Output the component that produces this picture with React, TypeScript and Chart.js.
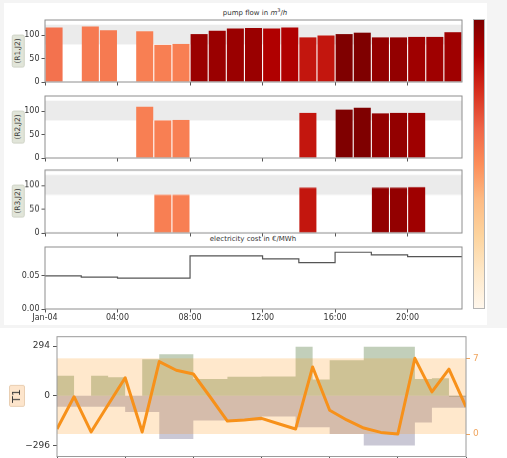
import React, { useEffect, useRef } from 'react';
import { Chart, registerables } from 'chart.js';

Chart.register(...registerables);
Chart.defaults.font.family = "'DejaVu Sans', sans-serif";

// ---------------- data ----------------
const hours = [0, 1, 2, 3, 4, 5, 6, 7, 8, 9, 10, 11, 12, 13, 14, 15, 16, 17, 18, 19, 20, 21, 22];
const flowR1J2 = [116, null, 118, 110, null, 108, 79, 81, 102, 109, 114, 115, 114, 116, 95, 99, 102, 105, 95, 95, 96, 96, 106];
const flowR2J2 = [null, null, null, null, null, 109, 80, 81, null, null, null, null, null, null, 96, null, 103, 107, 95, 96, 96, null, null];
const flowR3J2 = [null, null, null, null, null, null, 80, 80, null, null, null, null, null, null, 95, null, null, null, 95, 95, 96, null, null];
const electricityCost = [0.05, 0.05, 0.048, 0.048, 0.0465, 0.0465, 0.0465, 0.0465, 0.08, 0.08, 0.08, 0.08, 0.0755, 0.0755, 0.07, 0.07, 0.0856, 0.0856, 0.0815, 0.0815, 0.079, 0.079, 0.079];
const panelLabels = ['(R1,J2)', '(R2,J2)', '(R3,J2)'];
const xTickValues = [0, 4, 8, 12, 16, 20];
const xTickLabels = ['Jan-04', '04:00', '08:00', '12:00', '16:00', '20:00'];
const flowTicks = [0, 50, 100];
const flowRange = [0, 132];
const flowBand = [80, 122];
const costTicks = [0, 0.05];
const costRange = [0, 0.0935];

const t1Hours = [0, 1, 2, 3, 4, 5, 6, 7, 8, 9, 10, 11, 12, 13, 14, 15, 16, 17, 18, 19, 20, 21, 22, 23, 24];
const t1Level = [0.46, 3.45, 0.19, 2.7, 5.2, 0.19, 6.7, 5.9, 5.55, 3.4, 1.2, 1.3, 1.45, 0.95, 0.46, 6.2, 2.2, 1.3, 0.55, 0.15, 0.0, 7.0, 3.9, 6.0, 2.5];
const t1Upper = [118, 0, 118, 110, 0, 216, 245, 245, 100, 100, 112, 112, 114, 114, 290, 96, 210, 210, 290, 290, 290, 100, 104, -6];
const t1Lower = [-65, -65, -65, -65, -96, -96, -255, -255, -146, -146, -146, -146, -122, -122, -185, -185, -225, -225, -293, -293, -293, -158, -70, -70];
const t1XTicks = [0, 4, 8, 12, 16, 20, 24];
const t1LeftTicks = [-296, 0, 294];
const t1LeftRange = [-358, 349];
const t1RightTicks = [0, 7];
const t1RightRange = [-2.08, 9.0];
const t1Band = [0, 7];

const orRdStops = ['#fff7ec', '#fee8c8', '#fdd49e', '#fdbb84', '#fc8d59', '#ef6548', '#d7301f', '#b30000', '#7f0000'];

// ---------------- helpers ----------------
const TEXT = '#333333';
const FRAME = '#8e8e8e';

function hexRgb(h: string) {
  return [parseInt(h.slice(1, 3), 16), parseInt(h.slice(3, 5), 16), parseInt(h.slice(5, 7), 16)];
}
function orRd(t: number) {
  const n = orRdStops.length - 1;
  const tt = Math.max(0, Math.min(1, t));
  const i = Math.min(Math.floor(tt * n), n - 1);
  const f = tt * n - i;
  const a = hexRgb(orRdStops[i]);
  const b = hexRgb(orRdStops[i + 1]);
  const c = a.map((v, k) => Math.round(v + (b[k] - v) * f));
  return `rgb(${c[0]},${c[1]},${c[2]})`;
}
const maxCost = Math.max(...electricityCost);
const costColor = (h: number) => orRd(electricityCost[h] / maxCost);

const fixedTicks = (values: number[]) => (scale: any) => {
  scale.ticks = values.map((v) => ({ value: v }));
};

// force an exact scale size and drop the label overhang padding Chart.js adds
const fixSize = (key: 'width' | 'height', size: number) => (s: any) => {
  s[key] = size;
  s.paddingTop = 0;
  s.paddingBottom = 0;
  s.paddingLeft = 0;
  s.paddingRight = 0;
};

const framePlugin = (color: string) => ({
  id: 'frame',
  afterDraw(chart: any) {
    const { ctx, chartArea: a } = chart;
    ctx.save();
    ctx.strokeStyle = color;
    ctx.lineWidth = 1;
    ctx.strokeRect(a.left, a.top, a.right - a.left, a.bottom - a.top);
    ctx.restore();
  },
});

function paintBand(chart: any, axisId: string, range: number[], color: string) {
  const { ctx, chartArea: a } = chart;
  const s = chart.scales[axisId];
  const y1 = Math.max(a.top, s.getPixelForValue(range[1]));
  const y2 = Math.min(a.bottom, s.getPixelForValue(range[0]));
  ctx.save();
  ctx.fillStyle = color;
  ctx.fillRect(a.left, y1, a.right - a.left, y2 - y1);
  ctx.restore();
}

// band under everything
const bandPlugin = (axisId: string, range: number[], color: string) => ({
  id: 'band',
  beforeDraw(chart: any) {
    paintBand(chart, axisId, range, color);
  },
});

// band painted just before a given dataset (twin-axis layer, over earlier fills)
const bandBeforeDataset = (axisId: string, range: number[], color: string, index: number) => ({
  id: 'bandOver',
  beforeDatasetDraw(chart: any, args: any) {
    if (args.index === index) paintBand(chart, axisId, range, color);
  },
});

const tickGrid = (color: string) => ({
  offset: false,
  drawOnChartArea: false,
  drawTicks: true,
  tickLength: 3.5,
  tickColor: color,
  tickWidth: 1,
});

function hourScale(showLabels: boolean, axisH: number) {
  return {
    type: 'linear',
    min: 0,
    max: hours.length,
    offset: false,
    afterBuildTicks: fixedTicks(xTickValues),
    afterFit: fixSize('height', axisH),
    ticks: {
      display: showLabels,
      autoSkip: false,
      maxRotation: 0,
      padding: 1,
      color: TEXT,
      font: { size: 8 },
      callback: (v: number) => xTickLabels[xTickValues.indexOf(v)],
    },
    grid: tickGrid('#555'),
    border: { display: false },
  };
}

function valueScale(range: number[], ticks: number[], fmt: (v: number) => string, width: number) {
  return {
    type: 'linear',
    min: range[0],
    max: range[1],
    afterBuildTicks: fixedTicks(ticks),
    afterFit: fixSize('width', width),
    ticks: { color: TEXT, font: { size: 8 }, padding: 2, callback: fmt },
    grid: tickGrid('#555'),
    border: { display: false },
  };
}

// ---------------- layout ----------------
const PANEL_L = 45;
const PANEL_R = 462;
const PAD_T = 4;
const PAD_R = 4;
const panelAreas = [
  { top: 19.5, h: 62.2 },
  { top: 95.7, h: 62.1 },
  { top: 170.2, h: 62.4 },
  { top: 246.7, h: 62.3 },
];
const X_AXIS_SMALL = 4;
const X_AXIS_LABELS = 16;

type Rect = { x: number; y: number; w: number; h: number };
const panelRect = (i: number, axisH: number): Rect => ({
  x: 0,
  y: panelAreas[i].top - PAD_T,
  w: PANEL_R + PAD_R,
  h: PAD_T + panelAreas[i].h + axisH,
});

const baseOptions = (padTop: number, padRight: number) => ({
  responsive: false,
  animation: false,
  events: [],
  layout: { padding: { top: padTop, right: padRight, left: 0, bottom: 0 }, autoPadding: false },
  plugins: { legend: { display: false }, tooltip: { enabled: false }, title: { display: false } },
});

function flowConfig(flow: (number | null)[]) {
  const pts = hours.flatMap((h, i) => (flow[i] == null ? [] : [{ x: h + 0.5, y: flow[i] as number, hour: h }]));
  return {
    type: 'bar',
    data: {
      datasets: [
        {
          type: 'bar',
          data: pts,
          backgroundColor: pts.map((p) => costColor(p.hour)),
          borderWidth: 0,
          barPercentage: 0.94,
          categoryPercentage: 1,
        },
      ],
    },
    options: {
      ...baseOptions(PAD_T, PAD_R),
      scales: {
        x: hourScale(false, X_AXIS_SMALL),
        y: valueScale(flowRange, flowTicks, (v) => String(v), PANEL_L),
      },
    },
    plugins: [bandPlugin('y', flowBand, '#ebebeb'), framePlugin(FRAME)],
  };
}

function costConfig() {
  const pts = hours.map((h, i) => ({ x: h, y: electricityCost[i] }));
  pts.push({ x: hours.length, y: electricityCost[electricityCost.length - 1] });
  return {
    type: 'line',
    data: {
      datasets: [
        { data: pts, stepped: true, borderColor: '#555555', borderWidth: 1.2, pointRadius: 0, fill: false },
      ],
    },
    options: {
      ...baseOptions(PAD_T, PAD_R),
      scales: {
        x: hourScale(true, X_AXIS_LABELS),
        y: valueScale(costRange, costTicks, (v) => v.toFixed(2), PANEL_L),
      },
    },
    plugins: [framePlugin(FRAME)],
  };
}

const T1_RECT: Rect = { x: 0, y: 328, w: 507, h: 130 };
const T1_PAD_T = 8.7;
const T1_LEFT_W = 57;
const T1_RIGHT_W = 41;
const T1_X_H = 1.5;
const RIGHT_COLOR = '#f0a55e';

function t1Config() {
  const step = (arr: number[]) => {
    const p = arr.map((v, i) => ({ x: t1Hours[i], y: v }));
    p.push({ x: t1Hours[arr.length], y: arr[arr.length - 1] });
    return p;
  };
  const minus = (v: number) => (v < 0 ? '\u2212' + Math.abs(v) : String(v));
  return {
    type: 'line',
    data: {
      datasets: [
        {
          data: step(t1Upper),
          yAxisID: 'y',
          order: 2,
          stepped: true,
          fill: { value: 0 },
          backgroundColor: 'rgba(110,140,90,0.42)',
          borderWidth: 0,
          pointRadius: 0,
        },
        {
          data: step(t1Lower),
          yAxisID: 'y',
          order: 1,
          stepped: true,
          fill: { value: 0 },
          backgroundColor: 'rgba(122,117,150,0.40)',
          borderWidth: 0,
          pointRadius: 0,
        },
        {
          data: t1Hours.map((h, i) => ({ x: h, y: t1Level[i] })),
          yAxisID: 'yR',
          order: 0,
          borderColor: '#f7911a',
          borderWidth: 3,
          pointRadius: 0,
          tension: 0,
          fill: false,
          borderJoinStyle: 'round',
        },
      ],
    },
    options: {
      ...baseOptions(T1_PAD_T, 0),
      scales: {
        x: {
          type: 'linear',
          min: t1Hours[0],
          max: t1Hours[t1Hours.length - 1],
          offset: false,
          afterBuildTicks: fixedTicks(t1XTicks),
          afterFit: fixSize('height', T1_X_H),
          ticks: { display: false },
          grid: tickGrid('#555'),
          border: { display: false },
        },
        y: {
          type: 'linear',
          position: 'left',
          min: t1LeftRange[0],
          max: t1LeftRange[1],
          afterBuildTicks: fixedTicks(t1LeftTicks),
          afterFit: fixSize('width', T1_LEFT_W),
          ticks: { color: TEXT, font: { size: 9 }, padding: 3, callback: minus },
          grid: { ...tickGrid('#555'), tickLength: 4 },
          border: { display: false },
        },
        yR: {
          type: 'linear',
          position: 'right',
          min: t1RightRange[0],
          max: t1RightRange[1],
          afterBuildTicks: fixedTicks(t1RightTicks),
          afterFit: fixSize('width', T1_RIGHT_W),
          ticks: { color: RIGHT_COLOR, font: { size: 9 }, padding: 3, callback: (v: number) => String(v) },
          grid: { ...tickGrid(RIGHT_COLOR), tickLength: 4 },
          border: { display: false },
        },
      },
    },
    plugins: [bandBeforeDataset('yR', t1Band, 'rgba(255,140,0,0.2)', 2), framePlugin('#9a9a9a')],
  };
}

// ---------------- components ----------------
function ChartCanvas({ rect, make }: { rect: Rect; make: () => any }) {
  const ref = useRef<HTMLCanvasElement>(null);
  useEffect(() => {
    const chart = new Chart(ref.current as HTMLCanvasElement, make());
    return () => chart.destroy();
  }, []);
  return (
    <canvas
      ref={ref}
      width={rect.w}
      height={rect.h}
      style={{ position: 'absolute', left: rect.x, top: rect.y, width: rect.w, height: rect.h }}
    />
  );
}

function RotLabel({ cx, cy, text, size, bg, border }: any) {
  return (
    <div
      style={{
        position: 'absolute',
        left: cx,
        top: cy,
        transform: 'translate(-50%, -50%) rotate(-90deg)',
        whiteSpace: 'nowrap',
        fontSize: size,
        lineHeight: `${size + 1}px`,
        padding: '1px 3px',
        background: bg,
        border: `1px solid ${border}`,
        borderRadius: 2,
        color: '#3a3a3a',
      }}
    >
      {text}
    </div>
  );
}

function Title({ cx, top, children }: any) {
  return (
    <div
      style={{
        position: 'absolute',
        left: cx - 120,
        width: 240,
        top,
        textAlign: 'center',
        fontSize: 7,
        lineHeight: '8px',
        color: TEXT,
        whiteSpace: 'nowrap',
      }}
    >
      {children}
    </div>
  );
}

export default function App() {
  const gradient = `linear-gradient(to top, ${orRdStops
    .map((c, i) => `${c} ${((i / (orRdStops.length - 1)) * 100).toFixed(1)}%`)
    .join(', ')})`;
  const flows = [flowR1J2, flowR2J2, flowR3J2];
  return (
    <div
      style={{
        position: 'absolute',
        left: 0,
        top: 0,
        width: 507,
        height: 458,
        overflow: 'hidden',
        background: '#f4f4f4',
        fontFamily: "'DejaVu Sans', sans-serif",
      }}
    >
      <div style={{ position: 'absolute', left: 4, top: 3, width: 483, height: 322, background: '#ffffff' }} />
      <div style={{ position: 'absolute', left: 0, top: 328, width: 507, height: 130, background: '#ffffff' }} />

      <Title cx={255} top={6}>
        pump flow in <i>m</i>
        <sup style={{ fontSize: 5 }}>3</sup>/<i>h</i>
      </Title>
      <Title cx={253} top={235}>
        electricity cost in €/MWh
      </Title>

      {flows.map((f, i) => (
        <ChartCanvas key={i} rect={panelRect(i, X_AXIS_SMALL)} make={() => flowConfig(f)} />
      ))}
      <ChartCanvas rect={panelRect(3, X_AXIS_LABELS)} make={costConfig} />

      {panelLabels.map((t, i) => (
        <RotLabel
          key={t}
          cx={17.5}
          cy={panelAreas[i].top + panelAreas[i].h / 2}
          text={t}
          size={7.5}
          bg="#e1e5d9"
          border="#cfd3c6"
        />
      ))}

      <div
        style={{
          position: 'absolute',
          left: 473,
          top: 19.3,
          width: 12,
          height: 289.5,
          background: gradient,
          boxSizing: 'border-box',
          border: '1px solid #b5b5b5',
        }}
      />

      <ChartCanvas rect={T1_RECT} make={t1Config} />
      <RotLabel cx={16.5} cy={396} text="T1" size={11} bg="#fde5cc" border="#e9cfb3" />
    </div>
  );
}
